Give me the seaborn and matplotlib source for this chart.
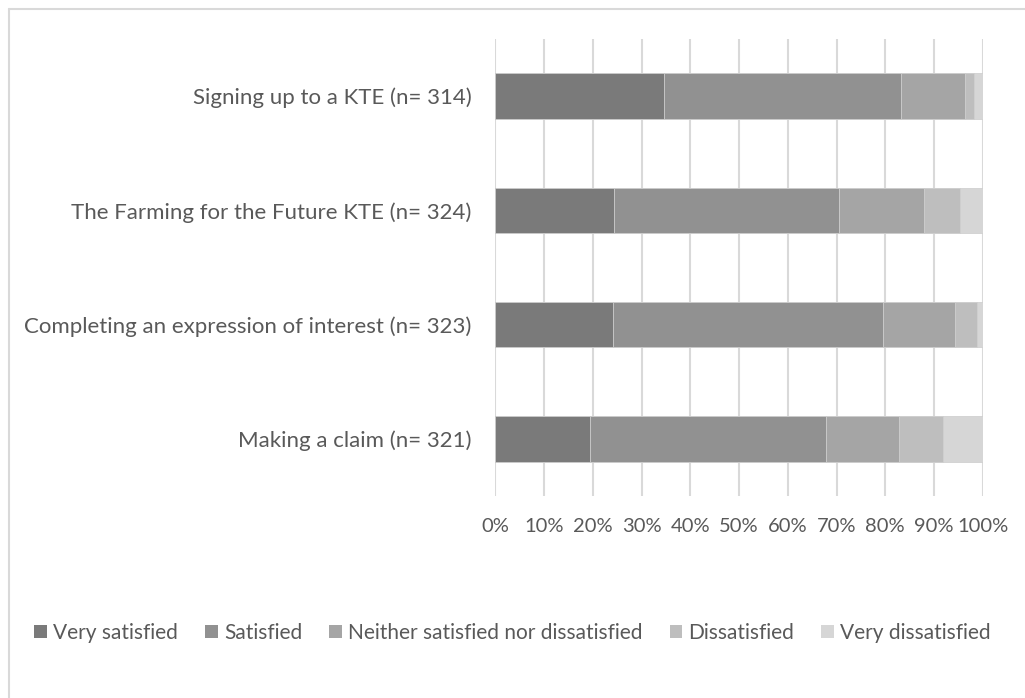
import pandas as pd
import numpy as np
import matplotlib.pyplot as plt
import seaborn as sns
from matplotlib.patches import Patch
from matplotlib.ticker import FuncFormatter

# values (percent of respondents)
questions = ['Signing up to a KTE (n= 314)',
             'The Farming for the Future KTE (n= 324)',
             'Completing an expression of interest (n= 323)',
             'Making a claim (n= 321)']
levels = ['Very satisfied', 'Satisfied', 'Neither satisfied nor dissatisfied',
          'Dissatisfied', 'Very dissatisfied']
very_satisfied = [34.6, 24.3, 24.1, 19.4]
satisfied = [48.6, 46.3, 55.5, 48.4]
neither = [13.2, 17.4, 14.7, 15.0]
dissatisfied = [1.8, 7.3, 4.5, 9.1]
very_dissatisfied = [1.8, 4.7, 1.2, 8.1]
colors = ['#7a7a7a', '#919191', '#a5a5a5', '#bebebe', '#d6d6d6']

sns.set_style('white')
plt.rcParams['font.family'] = ['Lato', 'DejaVu Sans']

df = pd.DataFrame({'question': questions,
                   levels[0]: very_satisfied, levels[1]: satisfied,
                   levels[2]: neither, levels[3]: dissatisfied,
                   levels[4]: very_dissatisfied})
cum = df[levels].cumsum(axis=1)

fig = plt.figure(figsize=(10.25, 6.98), dpi=100)
ax = fig.add_axes([0.4834, 0.2894, 0.4753, 0.6547])

# stacked bars: draw the cumulative totals from the last level back to the first
for lev, col in reversed(list(zip(levels, colors))):
    sns.barplot(x=cum[lev], y=df['question'], color=col, width=0.4,
                edgecolor='#d0d0d0', linewidth=0.6, ax=ax, zorder=3)

ax.set_xlim(0, 100)
ax.set_xticks(np.arange(0, 101, 10))
ax.xaxis.set_major_formatter(FuncFormatter(lambda v, p: f'{v:.0f}%'))
ax.grid(axis='x', color='#d9d9d9', linewidth=1.5, zorder=0)
ax.set_axisbelow(True)
ax.set_xlabel('')
ax.set_ylabel('')
sns.despine(ax=ax, left=True, bottom=True)
ax.tick_params(axis='x', length=0, pad=16, labelsize=14.5, labelcolor='#595959')
ax.tick_params(axis='y', length=0, pad=17, labelsize=16, labelcolor='#595959')

handles = [Patch(facecolor=c, edgecolor='none') for c in colors]
fig.legend(handles, levels, loc='center', bbox_to_anchor=(0.5, 0.093), ncol=5,
           frameon=False, fontsize=15, labelcolor='#595959',
           handlelength=0.6, handleheight=0.6, handletextpad=0.3,
           columnspacing=1.3)

# chart border (left and top visible in the reference)
fig.add_artist(plt.Line2D([9 / 1025, 9 / 1025], [0, 1 - 9 / 698],
                          color='#d9d9d9', linewidth=1.5))
fig.add_artist(plt.Line2D([9 / 1025, 1], [1 - 9 / 698, 1 - 9 / 698],
                          color='#d9d9d9', linewidth=1.5))

fig.savefig('out.png', dpi=100)
